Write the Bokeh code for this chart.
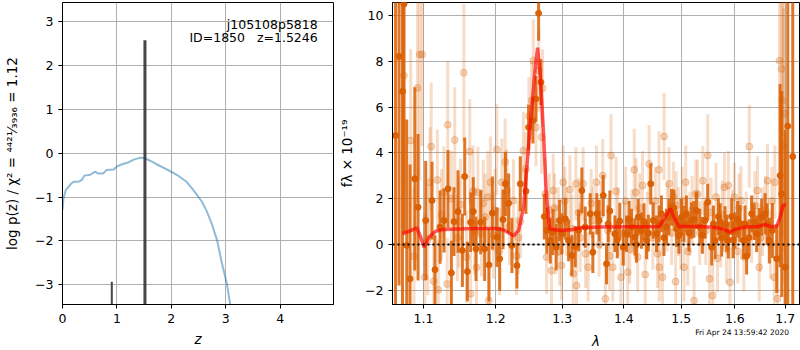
import numpy as np
from bokeh.plotting import figure
from bokeh.layouts import row, column
from bokeh.models import (Range1d, FixedTicker, CustomJSTickFormatter, Label,
                          Span, ColumnDataSource)
from bokeh.core.properties import value
from bokeh.embed import file_html
from bokeh.resources import INLINE

# ---------------- left panel data: log p(z) ----------------
pz_z = [0.0, 0.018, 0.06, 0.14, 0.20, 0.29, 0.355, 0.40, 0.51, 0.60, 0.65, 0.75,
        0.81, 0.94, 1.0, 1.12, 1.21, 1.30, 1.43, 1.51, 1.61, 1.73, 1.92, 2.10,
        2.28, 2.38, 2.47, 2.56, 2.65, 2.74, 2.84, 2.93, 3.02, 3.08, 3.12]
pz_logp = [-1.29, -1.03, -0.84, -0.72, -0.65, -0.65, -0.61, -0.51, -0.49, -0.42,
           -0.46, -0.46, -0.38, -0.37, -0.30, -0.24, -0.21, -0.15, -0.10, -0.11,
           -0.17, -0.25, -0.37, -0.49, -0.65, -0.80, -0.95, -1.10, -1.32, -1.60,
           -1.98, -2.51, -2.97, -3.44, -3.70]
spike_z = [0.906, 1.515]
spike_top = [-2.93, 2.58]
spike_width = [2, 3]
left_xticks = [0, 1, 2, 3, 4]
left_yticks = [-3, -2, -1, 0, 1, 2, 3]

# ---------------- right panel data: spectrum ----------------
dark_lam = [1.0637, 1.0682, 1.0726, 1.0746, 1.0781, 1.0824, 1.0886, 1.0929, 1.1030, 1.1114,
            1.1154, 1.1222, 1.1276, 1.1330, 1.1376, 1.1412, 1.1467, 1.1528, 1.1560, 1.1597,
            1.1643, 1.1680, 1.1718, 1.1784, 1.1841, 1.1902, 1.1951, 1.2018, 1.2057, 1.2105,
            1.2140, 1.2187, 1.2236, 1.2310, 1.2360, 1.2444, 1.2484, 1.2549, 1.2594, 1.2635,
            1.2670, 1.2722, 1.2761, 1.2814, 1.2854, 1.2906, 1.2958, 1.2994, 1.3047, 1.3099,
            1.3151, 1.3205, 1.3257, 1.3310, 1.3364, 1.3445, 1.3487, 1.3552, 1.3589, 1.3657,
            1.3711, 1.3766, 1.3849, 1.3932, 1.3989, 1.4045, 1.4130, 1.4186, 1.4244, 1.4300,
            1.4387, 1.4461, 1.4503, 1.4561, 1.4648, 1.4736, 1.4825, 1.4915, 1.5005, 1.5095,
            1.5186, 1.5278, 1.5339, 1.5438, 1.5487, 1.5561, 1.5625, 1.5687, 1.5749, 1.5813,
            1.5876, 1.5939, 1.6004, 1.6101, 1.6165, 1.6229, 1.6327, 1.6426, 1.6525, 1.6593,
            1.6679, 1.6739, 1.6827, 1.6896, 1.6929, 1.6999, 1.7052, 1.7155]
dark_flux = [4.76, 8.21, 6.69, 10.5, -0.04, -1.50, 2.87, 1.63, 1.05, 1.92,
             -1.10, 0.76, 1.05, 2.43, -1.24, 1.00, 1.44, -0.26, 2.97, -1.18,
             0.97, 1.44, -0.19, 0.97, -0.19, -0.89, 1.37, 0.32, -0.62, 1.09,
             2.65, 1.80, -0.04, -0.92, 2.65, 2.33, 5.12, 5.41, 6.36, 10.1,
             7.09, 1.22, 0.61, 0.17, 0.54, -0.12, 1.05, 0.47, 1.12, 0.17,
             -0.48, -0.09, 0.61, 2.36, 0.76, 1.34, -0.34, 1.34, 1.05, 2.14,
             -0.84, 1.46, 0.47, 1.02, -0.12, 0.47, 0.76, 0.32, 1.19, 0.61,
             0.17, 2.65, 1.05, 0.47, 1.34, 0.76, 1.63, 0.69, 1.19, 1.34,
             1.05, 1.48, 0.76, 1.05, 1.85, -0.12, 0.17, 1.22, 0.28, 0.87,
             0.19, 1.22, 0.61, 0.92, 0.17, -0.51, 1.34, 0.47, 1.19, 1.34,
             0.17, 0.61, -0.62, 3.01, 2.21, -0.99, 5.17, 3.84]
dark_err = [10, 10, 10, 10, 5.5, 5.0, 4.0, 3.2, 2.6, 1.7,
            1.5, 1.6, 1.4, 1.7, 1.4, 1.5, 1.8, 1.6, 1.7, 1.3,
            1.3, 1.5, 1.4, 1.4, 1.4, 1.6, 1.6, 1.3, 1.4, 1.3,
            1.4, 1.3, 1.2, 1.0, 1.2, 1.0, 1.0, 1.0, 1.0, 1.2,
            1.0, 1.0, 1.0, 1.0, 1.0, 1.0, 0.9, 0.9, 0.9, 0.9,
            0.9, 0.9, 0.9, 1.0, 0.9, 0.9, 0.9, 0.9, 0.9, 0.9,
            0.9, 0.9, 0.8, 0.8, 0.8, 0.8, 0.8, 0.8, 0.8, 0.8,
            0.8, 0.9, 0.8, 0.8, 0.8, 0.8, 0.8, 0.8, 0.8, 0.8,
            0.8, 0.8, 0.8, 0.8, 0.8, 0.8, 0.8, 0.8, 0.8, 0.8,
            0.8, 0.8, 0.8, 0.8, 0.8, 0.8, 0.8, 0.8, 0.8, 0.9,
            1.0, 1.2, 1.5, 4.0, 4.5, 6.0, 12, 12]

# additional dark points in the crowded red half of the spectrum
dark2_lam = [1.3738, 1.3890, 1.4088, 1.4215, 1.4344, 1.4420, 1.4605, 1.4692, 1.4780, 1.4870,
             1.4960, 1.5050, 1.5140, 1.5232, 1.5388, 1.5593, 1.5718, 1.5845, 1.5970, 1.6053,
             1.6197, 1.6277, 1.6376, 1.6475, 1.6636]
dark2_flux = [0.9, 0.2, 1.1, 0.0, 1.0, 0.5, 0.9, 0.3, 1.2, 1.6,
              0.4, 0.9, 0.5, 1.1, 0.4, 0.9, 1.0, 0.5, 0.2, 1.1,
              0.9, 0.3, 1.0, 0.8, 0.9]
dark2_err = [0.8, 0.8, 0.8, 0.8, 0.8, 0.8, 0.8, 0.8, 0.8, 0.8,
             0.8, 0.8, 0.8, 0.8, 0.8, 0.8, 0.8, 0.8, 0.8, 0.8,
             0.8, 0.8, 0.8, 0.8, 0.9]

light_lam = [1.0744, 1.0833, 1.0876, 1.0921, 1.0951, 1.0984, 1.1017, 1.1057, 1.1087, 1.1103,
             1.1137, 1.1186, 1.1199, 1.1243, 1.1274, 1.1319, 1.1327, 1.1377, 1.1422, 1.1458,
             1.1503, 1.1548, 1.1585, 1.1631, 1.1642, 1.1677, 1.1726, 1.1745, 1.1796, 1.1846,
             1.1885, 1.1900, 1.1924, 1.1967, 1.2015, 1.2054, 1.2088, 1.2137, 1.2160, 1.2258,
             1.2302, 1.2361, 1.2405, 1.2443, 1.2488, 1.2529, 1.2555, 1.2595, 1.2637, 1.2681,
             1.2695, 1.2737, 1.2757, 1.2798, 1.2833, 1.2860, 1.2899, 1.2937, 1.2989, 1.3015,
             1.3066, 1.3120, 1.3172, 1.3215, 1.3225, 1.3283, 1.3331, 1.3411, 1.3492, 1.3545,
             1.3589, 1.3649, 1.3692, 1.3737, 1.3786, 1.3814, 1.3869, 1.3952, 1.4007, 1.4065,
             1.4137, 1.4176, 1.4205, 1.4234, 1.4319, 1.4364, 1.4432, 1.4496, 1.4604, 1.4610,
             1.4667, 1.4694, 1.4782, 1.4829, 1.4900, 1.4909, 1.4993, 1.5052, 1.5082, 1.5156,
             1.5234, 1.5265, 1.5339, 1.5395, 1.5487, 1.5519, 1.5580, 1.5642, 1.5731, 1.5800,
             1.5876, 1.5907, 1.5992, 1.6056, 1.6120, 1.6175, 1.6281, 1.6326, 1.6443, 1.6476,
             1.6542, 1.6642, 1.6702, 1.6777, 1.6790, 1.6843, 1.6884, 1.6924, 1.6944, 1.6964, 1.6978]
light_flux = [7.38, 4.54, -0.52, 6.84, 8.30, 8.30, -1.43, 0.20, 2.72, 4.28,
              -1.60, 2.82, -1.98, 1.30, 2.28, -1.72, 5.23, 2.00, 4.57, 0.30,
              1.75, 7.50, -0.55, 4.06, -2.15, 2.33, -0.99, 2.28, 0.50, 1.20,
              2.07, -2.45, 2.72, 0.40, 4.15, -0.30, 2.72, 3.60, 2.36, 1.92,
              -0.50, 1.00, 4.10, 3.30, 5.60, 6.29, 8.03, 5.12, 7.60, 4.69,
              6.83, 2.21, -0.55, 1.50, -1.14, 2.36, 0.20, 1.00, -0.92, 2.72,
              1.00, 2.40, -1.28, 2.65, -1.79, 0.30, 2.65, -0.99, 1.05, 2.72,
              0.00, 3.01, -2.37, 0.60, 3.89, -0.99, 2.33, -1.43, 0.47, -1.21,
              1.00, 3.26, 2.28, -0.55, 2.58, -1.31, 3.52, 0.30, 3.26, -0.99,
              -1.43, 4.72, 2.65, 0.50, -1.62, 1.70, 0.30, -0.99, 2.72, 0.90,
              -2.45, 2.21, 0.50, 2.79, 3.89, -1.50, -2.23, 2.07, 0.40, 2.50,
              2.58, -1.65, 2.07, -0.30, 1.92, -0.55, 4.28, 0.60, 2.36, -0.99,
              1.00, 2.79, 0.00, -1.43, 2.72, -2.36, 8.03, 7.67, 6.29, 4.32, 5.71]
light_err = [5.0, 4.0, 3.0, 5.0, 5.5, 4.0, 2.8, 2.4, 2.4, 2.8,
             2.2, 2.2, 2.2, 2.0, 2.0, 2.0, 2.8, 2.1, 2.3, 1.9,
             2.0, 3.0, 2.0, 2.3, 2.1, 2.0, 2.0, 2.0, 1.9, 1.9,
             2.0, 2.1, 2.0, 1.9, 2.0, 1.9, 1.9, 1.9, 1.8, 1.8,
             1.7, 1.6, 1.7, 1.6, 1.7, 1.7, 1.8, 1.7, 1.8, 1.6,
             1.7, 1.6, 1.6, 1.6, 1.6, 1.6, 1.5, 1.5, 1.5, 1.6,
             1.5, 1.5, 1.6, 1.6, 1.6, 1.5, 1.6, 1.5, 1.5, 1.6,
             1.4, 1.6, 1.6, 1.4, 1.8, 1.5, 1.5, 1.5, 1.4, 1.5,
             1.4, 1.8, 1.5, 1.5, 1.5, 1.5, 1.7, 1.4, 1.7, 1.5,
             1.5, 1.9, 1.6, 1.4, 1.5, 1.5, 1.4, 1.5, 1.6, 1.4,
             1.5, 1.5, 1.4, 1.5, 1.8, 1.5, 1.6, 1.5, 1.4, 1.5,
             1.5, 1.5, 1.5, 1.4, 1.5, 1.5, 1.8, 1.4, 1.5, 1.5,
             1.5, 1.6, 1.5, 1.6, 1.6, 3.0, 6.0, 6.0, 6.0, 6.0, 6.0]

# additional pale points sitting on the continuum
light2_lam = [1.1480, 1.1700, 1.1820, 1.1990, 1.2200, 1.2330, 1.2880, 1.2960, 1.3040, 1.3150,
              1.3260, 1.3370, 1.3460, 1.3620, 1.3760, 1.3900, 1.4030, 1.4100, 1.4270, 1.4400,
              1.4540, 1.4580, 1.4750, 1.4860, 1.4950, 1.5020, 1.5120, 1.5200, 1.5300, 1.5450,
              1.5550, 1.5670, 1.5760, 1.5840, 1.5950, 1.6080, 1.6220, 1.6390, 1.6500, 1.6600,
              1.6730]
light2_flux = [1.0, 0.6, 1.8, 1.5, 0.8, 0.3, 1.6, -0.3, 1.9, 0.7,
               1.4, -0.4, 1.8, 1.3, -0.5, 1.0, 1.9, -0.2, 1.6, 0.8,
               1.9, -0.4, 1.2, 2.1, 1.0, 1.9, -0.3, 1.5, 2.2, 0.6,
               1.4, -0.6, 1.3, -0.2, 0.9, 1.6, 0.8, 1.7, 0.3, 1.5,
               1.9]
light2_err = [2.0, 1.9, 1.9, 1.8, 1.7, 1.6, 1.5, 1.5, 1.5, 1.5,
              1.5, 1.5, 1.5, 1.5, 1.5, 1.5, 1.5, 1.5, 1.5, 1.5,
              1.5, 1.5, 1.5, 1.5, 1.5, 1.5, 1.5, 1.5, 1.5, 1.5,
              1.5, 1.5, 1.5, 1.5, 1.5, 1.5, 1.5, 1.5, 1.5, 1.5,
              1.5]

model_lam = [1.0726, 1.0833, 1.0912, 1.0964, 1.1008, 1.1074, 1.1164, 1.1276, 1.1459, 1.1690,
             1.1999, 1.2114, 1.2187, 1.2261, 1.2335, 1.2409, 1.2458, 1.2518, 1.2585, 1.2620,
             1.2661, 1.2711, 1.2752, 1.2803, 1.2969, 1.3126, 1.3284, 1.3580, 1.4618, 1.4706,
             1.4807, 1.4884, 1.4963, 1.5370, 1.5687, 1.5845, 1.5910, 1.6006, 1.6199, 1.6460,
             1.6593, 1.6693, 1.6827, 1.6896, 1.6964, 1.7011]
model_flux = [0.47, 0.61, 0.73, 0.32, -0.12, 0.32, 0.58, 0.66, 0.68, 0.70,
              0.70, 0.64, 0.51, 0.38, 0.61, 1.63, 3.38, 5.56, 7.74, 8.60,
              7.31, 4.83, 2.21, 0.69, 0.61, 0.64, 0.73, 0.76, 0.79, 1.19,
              1.56, 1.12, 0.79, 0.79, 0.73, 0.61, 0.54, 0.67, 0.76, 0.79,
              0.87, 0.79, 0.79, 1.19, 1.75, 1.70]
right_xticks = [1.1, 1.2, 1.3, 1.4, 1.5, 1.6, 1.7]
right_yticks = [-2, 0, 2, 4, 6, 8, 10]

obj_name = "j105108p5818"
obj_info = "ID=1850\u00a0\u00a0\u00a0z=1.5246"
timestamp = "Fri Apr 24 13:59:42 2020"
right_xlabel = "\u03bb"

FONT = "DejaVu Sans"
ORANGE = "#d95f02"

minus_int = CustomJSTickFormatter(code="return (tick < 0 ? '\\u2212' : '') + Math.abs(tick).toFixed(0);")
one_dec = CustomJSTickFormatter(code="return tick.toFixed(1);")


def style(p):
    p.background_fill_color = "white"
    p.border_fill_color = "white"
    p.outline_line_color = "black"
    p.outline_line_alpha = 1.0
    p.outline_line_width = 1
    for ax in p.axis:
        ax.axis_line_color = "black"
        ax.major_tick_out = 4
        ax.major_tick_in = 0
        ax.major_tick_line_color = "black"
        ax.minor_tick_line_color = None
        ax.major_label_text_font = FONT
        ax.major_label_text_font_size = "12.5px"
        ax.major_label_text_color = "black"
        ax.axis_label_text_font = FONT
        ax.axis_label_text_font_size = "13.5px"
        ax.axis_label_text_color = "black"
        ax.axis_label_text_font_style = "normal"
    p.grid.grid_line_color = "#b0b0b0"
    p.grid.grid_line_width = 1
    p.grid.grid_line_alpha = 1.0


# ---------------- left figure ----------------
p1 = figure(width=335, height=350, x_range=Range1d(0, 4.98), y_range=Range1d(-3.45, 3.44),
            output_backend="svg", toolbar_location=None,
            min_border_left=62, min_border_right=2, min_border_top=2, min_border_bottom=46)
style(p1)
p1.xaxis.ticker = FixedTicker(ticks=left_xticks)
p1.yaxis.ticker = FixedTicker(ticks=left_yticks)
p1.xaxis.formatter = minus_int
p1.yaxis.formatter = minus_int
p1.xaxis.axis_label = "z"
p1.xaxis.axis_label_text_font_style = "italic"
p1.yaxis.axis_label = "log p(z) / \u03c7\u00b2 = \u2074\u2074\u00b2\u00b9\u2044\u2083\u2089\u2083\u2086 = 1.12"
p1.yaxis.axis_label_standoff = 12

p1.line(pz_z, pz_logp, line_color="#1f77b4", line_alpha=0.5, line_width=2)
spikes = ColumnDataSource(dict(x=spike_z, top=spike_top, w=spike_width,
                               bottom=[-10] * len(spike_z)))
p1.segment(x0="x", y0="bottom", x1="x", y1="top", source=spikes,
           line_color="#333333", line_alpha=0.9, line_width="w")

p1.add_layout(Label(x=4.69, y=2.94, text=obj_name, text_align="right",
                    text_baseline="alphabetic", text_font=FONT, text_font_size="12.5px",
                    text_color="black"))
p1.add_layout(Label(x=4.69, y=2.64, text=obj_info, text_align="right",
                    text_baseline="alphabetic", text_font=FONT, text_font_size="12.5px",
                    text_color="black"))

# ---------------- right figure ----------------
p2 = figure(width=465, height=328, x_axis_type="log",
            x_range=Range1d(1.0598, 1.7295), y_range=Range1d(-2.62, 10.57),
            output_backend="svg", toolbar_location=None,
            min_border_left=57, min_border_right=1, min_border_top=2, min_border_bottom=24)
style(p2)
p2.xaxis.ticker = FixedTicker(ticks=right_xticks)
p2.yaxis.ticker = FixedTicker(ticks=right_yticks)
p2.xaxis.formatter = one_dec
p2.yaxis.formatter = minus_int
p2.yaxis.axis_label = "f\u03bb \u00d7 10\u207b\u00b9\u2079"
p2.yaxis.axis_label_standoff = 7


def err_source(lam, flux, err):
    x = np.array(lam)
    y = np.array(flux)
    e = np.array(err)
    return ColumnDataSource(dict(x=x, y=y, lo=y - e, hi=y + e))


light_src = err_source(light_lam + light2_lam, light_flux + light2_flux, light_err + light2_err)
p2.segment(x0="x", y0="lo", x1="x", y1="hi", source=light_src,
           line_color=ORANGE, line_alpha=0.22, line_width=3)
p2.scatter("x", "y", source=light_src, size=7, fill_color=ORANGE, fill_alpha=0.25,
           line_color=ORANGE, line_alpha=0.25)

dark_src = err_source(dark_lam + dark2_lam, dark_flux + dark2_flux, dark_err + dark2_err)
p2.segment(x0="x", y0="lo", x1="x", y1="hi", source=dark_src,
           line_color=ORANGE, line_alpha=0.85, line_width=3)
p2.scatter("x", "y", source=dark_src, size=6, fill_color=ORANGE, fill_alpha=0.95,
           line_color=ORANGE, line_alpha=0.95)

p2.line(model_lam, model_flux, line_color="red", line_alpha=0.65, line_width=3.5)
p2.add_layout(Span(location=0, dimension="width", line_color="black",
                   line_width=2, line_dash="2 3"))

# ---------------- strip under the right panel: x label and timestamp ----------------
# (the column aligns this strip's frame with the spectrum frame, 407 px wide)
strip = figure(width=465, height=22, x_range=Range1d(0, 407), y_range=Range1d(0, 22),
               output_backend="svg", toolbar_location=None, min_border=0,
               x_axis_location=None, y_axis_location=None)
strip.outline_line_color = None
strip.grid.visible = False
strip.background_fill_color = "white"
strip.border_fill_color = "white"
strip.text(x=[203.5], y=[10], text=[right_xlabel], text_font=value(FONT),
           text_font_style="italic", text_font_size="13.5px", text_color="black",
           text_align="center", text_baseline="middle")
strip.text(x=[396.5], y=[18], text=[timestamp], text_font=value(FONT),
           text_font_size="7.5px", text_color="black",
           text_align="right", text_baseline="middle")

layout = row(p1, column(p2, strip))
open("out.html", "w").write(file_html(layout, INLINE))
